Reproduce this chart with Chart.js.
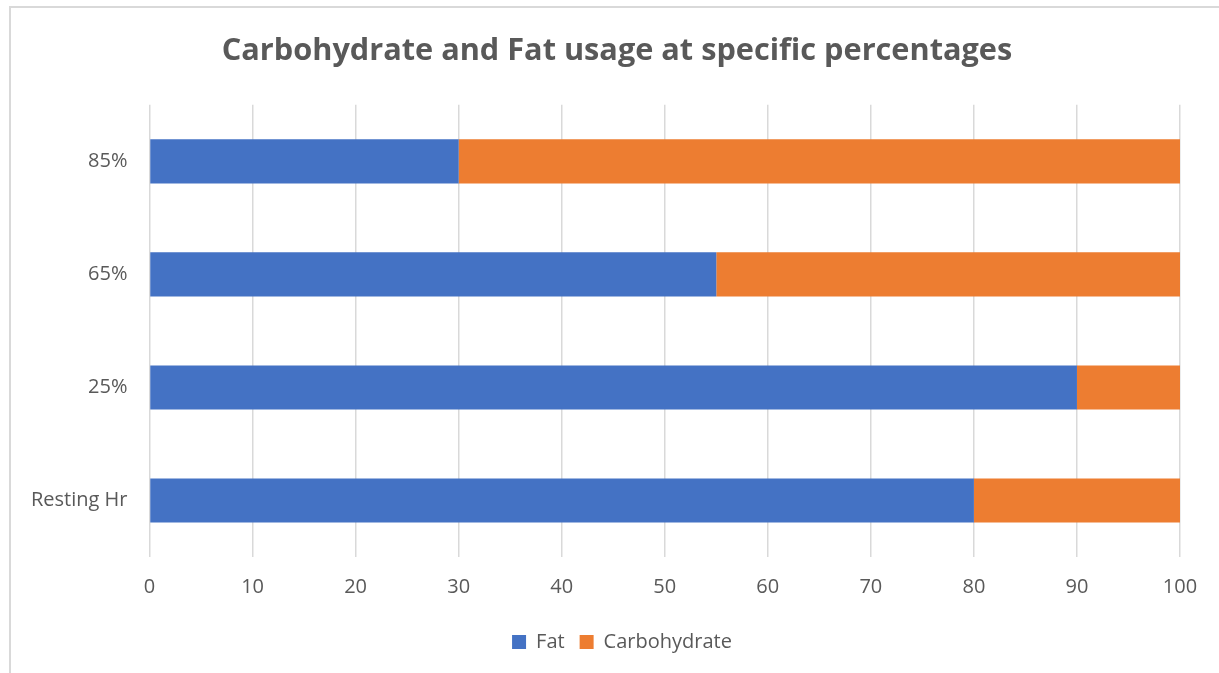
<!DOCTYPE html>
<html>
<head>
<meta charset="utf-8">
<script src="https://cdn.jsdelivr.net/npm/chart.js@4/dist/chart.umd.min.js"></script>
<style>
  html, body { margin: 0; padding: 0; background: #ffffff; overflow: hidden; }
  #frame {
    position: absolute; left: 9px; top: 6px; width: 1300px; height: 800px;
    border: 2px solid #d9d9d9; box-sizing: border-box;
  }
  #c { position: absolute; left: 0; top: 0; }
</style>
</head>
<body>
<div id="frame"></div>
<canvas id="c" width="1219" height="673"></canvas>
<script>
// Intensity levels, listed bottom-up as in the source sheet
const categories = ['Resting Hr', '25%', '65%', '85%'];
// Share of energy (percent) from each fuel
const fatValues = [80, 90, 55, 30];
const carbValues = [20, 10, 45, 70];
const xTicks = [0, 10, 20, 30, 40, 50, 60, 70, 80, 90, 100];

const TEXT = '#595959';
const FONT = "'Open Sans', 'DejaVu Sans', sans-serif";

// Centre the title and legend on the outer frame rather than on the
// narrower padded box the layout gives them.
const centreOnFrame = {
  id: 'centreOnFrame',
  afterLayout(chart) {
    const shift = 45;
    if (chart.titleBlock) { chart.titleBlock.left += shift; }
    if (chart.legend) { chart.legend.left += 55; }
  }
};

new Chart(document.getElementById('c'), {
  type: 'bar',
  data: {
    labels: categories,
    datasets: [
      { label: 'Fat', data: fatValues, backgroundColor: '#4472C4', borderWidth: 0 },
      { label: 'Carbohydrate', data: carbValues, backgroundColor: '#ED7D31', borderWidth: 0 }
    ]
  },
  plugins: [centreOnFrame],
  options: {
    indexAxis: 'y',
    responsive: false,
    animation: false,
    devicePixelRatio: 1,
    layout: { padding: { left: 9, right: 39, top: 0, bottom: 11 } },
    datasets: { bar: { barPercentage: 0.39, categoryPercentage: 1.0 } },
    scales: {
      x: {
        stacked: true,
        min: 0, max: 100,
        afterBuildTicks: (axis) => { axis.ticks = xTicks.map(v => ({ value: v })); },
        grid: { color: '#d9d9d9', lineWidth: 1.5, drawTicks: false },
        border: { display: false },
        ticks: { color: TEXT, font: { family: FONT, size: 20 }, padding: 18 }
      },
      y: {
        stacked: true,
        reverse: true,
        grid: { display: false, drawTicks: false },
        border: { display: false },
        ticks: { color: TEXT, font: { family: FONT, size: 20 }, padding: 22 }
      }
    },
    plugins: {
      tooltip: { enabled: false },
      title: {
        display: true,
        text: 'Carbohydrate and Fat usage at specific percentages',
        color: TEXT,
        font: { family: FONT, size: 30.7, weight: 'bold', lineHeight: 1.2 },
        padding: { top: 33, bottom: 35 }
      },
      legend: {
        position: 'bottom',
        labels: {
          color: TEXT,
          font: { family: FONT, size: 20 },
          boxWidth: 14, boxHeight: 14,
          padding: 15
        }
      }
    }
  }
});
</script>
</body>
</html>
